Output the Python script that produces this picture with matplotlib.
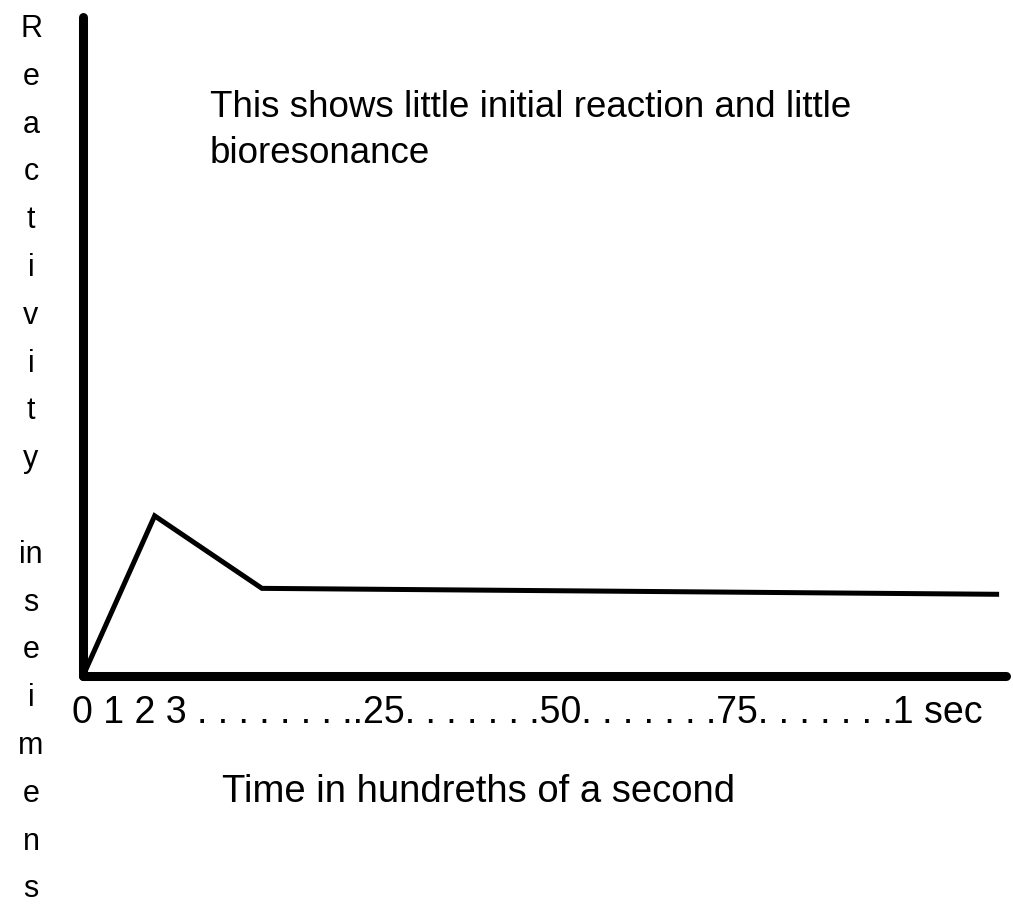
"""
Reactivity over time chart.
"""

import matplotlib.pyplot as plt

plt.rcParams["font.family"] = ["Liberation Sans", "DejaVu Sans"]

# line data (arbitrary position units along the time axis, reactivity 0-100)
time_pos = [0.0, 2.9, 7.24, 36.97]
reactivity = [0.0, 24.3, 13.3, 12.4]

tick_labels = ["0 1 2 3", "25", "50", "75", "1 sec"]
y_label_top = "Reactivity"
y_label_bottom = "in seimens"
note_lines = ["This shows little initial reaction and little", "bioresonance"]
x_title = "Time in hundreths of a second"

W, H = 1013, 909


def fx(px):
    return px / W


def fy(py):
    return 1 - py / H


fig = plt.figure(figsize=(W / 100, H / 100), dpi=100)

ax = fig.add_axes([fx(83), fy(676), fx(1006) - fx(83), fy(17) - fy(676)])
ax.plot(time_pos, reactivity, color="black", linewidth=3.6,
        solid_joinstyle="miter", clip_on=False)
ax.set_xlim(0, 37.35)
ax.set_ylim(0, 100)
ax.set_xticks([])
ax.set_yticks([])
for side in ["top", "right"]:
    ax.spines[side].set_visible(False)
for side in ["left", "bottom"]:
    ax.spines[side].set_linewidth(6.5)
    ax.spines[side].set_capstyle("round")

# x tick labels joined by dotted leaders
tick_text = (tick_labels[0] + " ." * 8 + "." + tick_labels[1] + "."
             + " ." * 6 + tick_labels[2] + "."
             + " ." * 6 + tick_labels[3] + "."
             + " ." * 6 + tick_labels[4])
fig.text(fx(72), fy(723), tick_text, fontsize=27, va="baseline", ha="left")

fig.text(fx(222), fy(802), x_title, fontsize=27.5, va="baseline", ha="left")

for i, line in enumerate(note_lines):
    fig.text(fx(210), fy(117 + 46 * i), line, fontsize=26.5, va="baseline",
             ha="left")

# vertical y label, one letter per line
letters = list(y_label_top) + [""] + [y_label_bottom.split()[0]] + list(
    y_label_bottom.split()[1])
for i, ch in enumerate(letters):
    fig.text(fx(31), fy(37 + 47.8 * i), ch, fontsize=22, va="baseline",
             ha="center")

fig.savefig("out.png", dpi=100, facecolor="white")
